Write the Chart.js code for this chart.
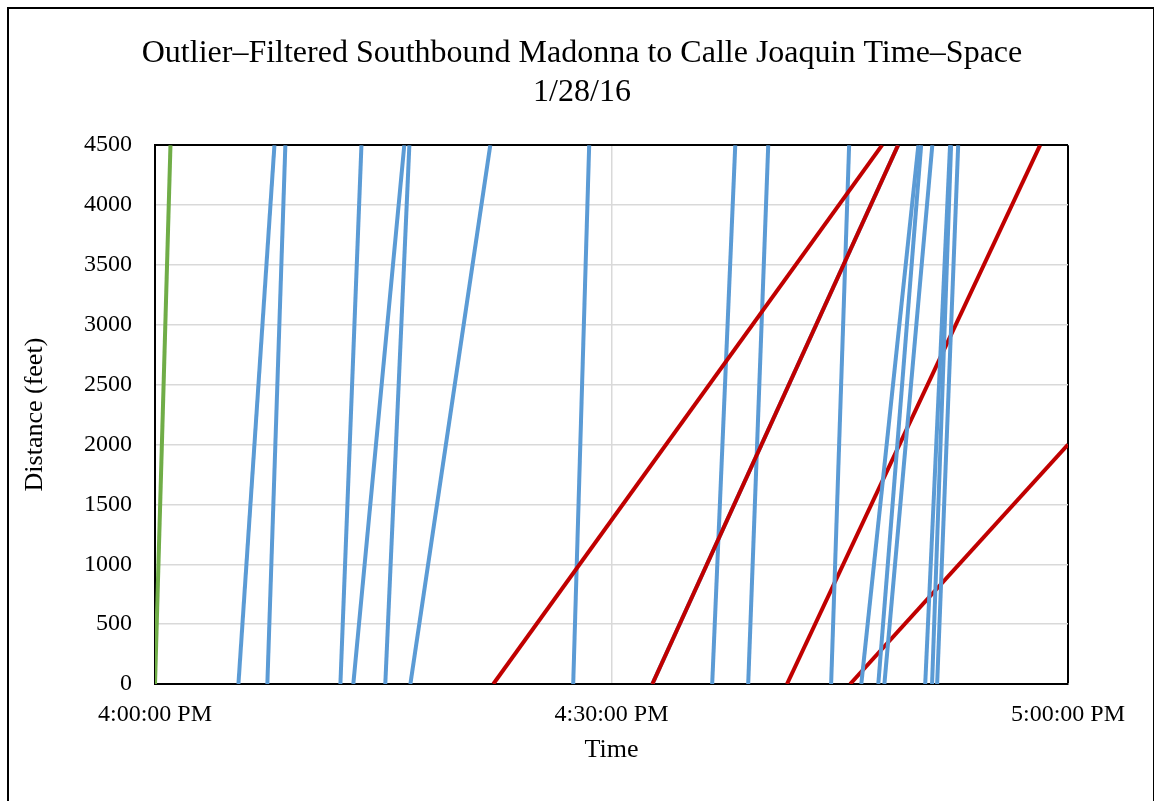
<!DOCTYPE html>
<html>
<head>
<meta charset="utf-8">
<title>Southbound Time-Space</title>
<script src="https://cdn.jsdelivr.net/npm/chart.js@4.4.1/dist/chart.umd.min.js"></script>
<style>
  html, body { margin: 0; padding: 0; background: #fff; overflow: hidden; }
  #frame { position: absolute; left: 7px; top: 7px; width: 1144px; height: 900px; border: 2px solid #000; }
  #wrap { position: absolute; left: 0; top: 0; width: 1154px; height: 801px; }
</style>
</head>
<body>
<div id="frame"></div>
<div id="wrap"><canvas id="tsChart" width="1154" height="801"></canvas></div>
<script>
// runs through the corridor: clock time at 0 ft and at the far end
var blueEnter = ['4:05:29', '4:07:23', '4:12:11', '4:13:02', '4:15:08', '4:16:47', '4:27:29', '4:32:41',
                 '4:36:37', '4:38:59', '4:44:26', '4:46:25', '4:47:32', '4:47:56', '4:50:37', '4:51:04', '4:51:24'];
var blueExit  = ['4:07:51', '4:08:34', '4:13:34', '4:16:23', '4:16:43', '4:22:02', '4:28:32', '4:48:50',
                 '4:38:08', '4:40:18', '4:45:37', '4:50:10', '4:50:21', '4:51:05', '4:52:15', '4:52:19', '4:52:47'];
var redEnter = ['4:22:14', '4:32:41', '4:41:32', '4:45:41'];
var redExit  = ['4:47:47', '4:48:50', '4:58:10', '5:00:00'];
var redExitFeet = [4500, 4500, 4500, 2000];
var greenEnter = ['4:00:00'];
var greenExit  = ['4:01:01'];
var corridorFeet = 4500;
var timeTicks = ['4:00:00', '4:30:00', '5:00:00'];

var serif = "'Times New Roman', 'Liberation Serif', serif";

// minutes after 4 PM
function toMinutes(s) {
  var p = s.split(':');
  return (parseInt(p[0], 10) - 4) * 60 + parseInt(p[1], 10) + parseInt(p[2], 10) / 60;
}

function clockLabel(v) {
  var secs = Math.round(v * 60);
  var h = 4 + Math.floor(secs / 3600);
  var m = Math.floor((secs % 3600) / 60);
  var s = secs % 60;
  return h + ':' + (m < 10 ? '0' : '') + m + ':' + (s < 10 ? '0' : '') + s + ' PM';
}

function run(enter, exit, exitFeet, color, order) {
  return {
    data: [{ x: toMinutes(enter), y: 0 }, { x: toMinutes(exit), y: exitFeet }],
    borderColor: color,
    borderWidth: 4,
    pointRadius: 0,
    fill: false,
    order: order
  };
}

var datasets = [];
for (var i = 0; i < greenEnter.length; i++) {
  datasets.push(run(greenEnter[i], greenExit[i], corridorFeet, '#70AD47', 1));
}
for (var i = 0; i < blueEnter.length; i++) {
  // the 4:32:41 run sits right under a red one
  var ord = blueEnter[i] === '4:32:41' ? 5 : 2;
  datasets.push(run(blueEnter[i], blueExit[i], corridorFeet, '#5B9BD5', ord));
}
for (var i = 0; i < redEnter.length; i++) {
  datasets.push(run(redEnter[i], redExit[i], redExitFeet[i], '#C00000', i < 2 ? 0 : 3));
}

var tickMinutes = timeTicks.map(toMinutes);
var lastMinute = tickMinutes[tickMinutes.length - 1];

new Chart(document.getElementById('tsChart'), {
  type: 'line',
  data: { datasets: datasets },
  options: {
    responsive: false,
    animation: false,
    layout: { padding: { left: 10, right: 0, top: 0, bottom: 0 } },
    plugins: {
      legend: { display: false },
      tooltip: { enabled: false },
      title: {
        display: true,
        text: ['Outlier\u2013Filtered Southbound Madonna to Calle Joaquin Time\u2013Space', '1/28/16'],
        color: '#000',
        font: { family: serif, size: 32, weight: 'normal', lineHeight: 1.19 },
        padding: { top: 35, bottom: 34 }
      }
    },
    scales: {
      x: {
        type: 'linear',
        min: tickMinutes[0],
        max: lastMinute,
        afterFit: function (s) { s.height = 117; },
        afterBuildTicks: function (s) { s.ticks = tickMinutes.map(function (v) { return { value: v }; }); },
        ticks: {
          callback: clockLabel,
          color: '#000',
          font: { family: serif, size: 24 },
          padding: 16,
          maxRotation: 0,
          autoSkip: false
        },
        grid: {
          drawTicks: false,
          color: function (c) { return c.tick && c.tick.value === lastMinute ? '#000' : '#D9D9D9'; },
          lineWidth: function (c) { return c.tick && c.tick.value === lastMinute ? 2 : 1.5; }
        },
        border: { display: true, color: '#000', width: 2 },
        title: {
          display: true,
          text: 'Time',
          color: '#000',
          font: { family: serif, size: 26 },
          padding: { top: 0, bottom: 35 }
        }
      },
      y: {
        min: 0,
        max: corridorFeet,
        afterFit: function (s) { s.width = 145; },
        ticks: {
          stepSize: 500,
          callback: function (v) { return String(v); },
          color: '#000',
          font: { family: serif, size: 24 },
          padding: 23
        },
        grid: {
          drawTicks: false,
          color: function (c) { return c.tick && c.tick.value === corridorFeet ? '#000' : '#D9D9D9'; },
          lineWidth: function (c) { return c.tick && c.tick.value === corridorFeet ? 2 : 1.5; }
        },
        border: { display: true, color: '#000', width: 2 },
        title: {
          display: true,
          text: 'Distance (feet)',
          color: '#000',
          font: { family: serif, size: 26 },
          padding: { top: 10, bottom: 0 }
        }
      },
      // empty strip on the right, keeps room for the last time label
      yPad: {
        position: 'right',
        afterFit: function (s) { s.width = 86; },
        ticks: { display: false },
        grid: { display: false },
        border: { display: false }
      }
    }
  }
});
</script>
</body>
</html>
